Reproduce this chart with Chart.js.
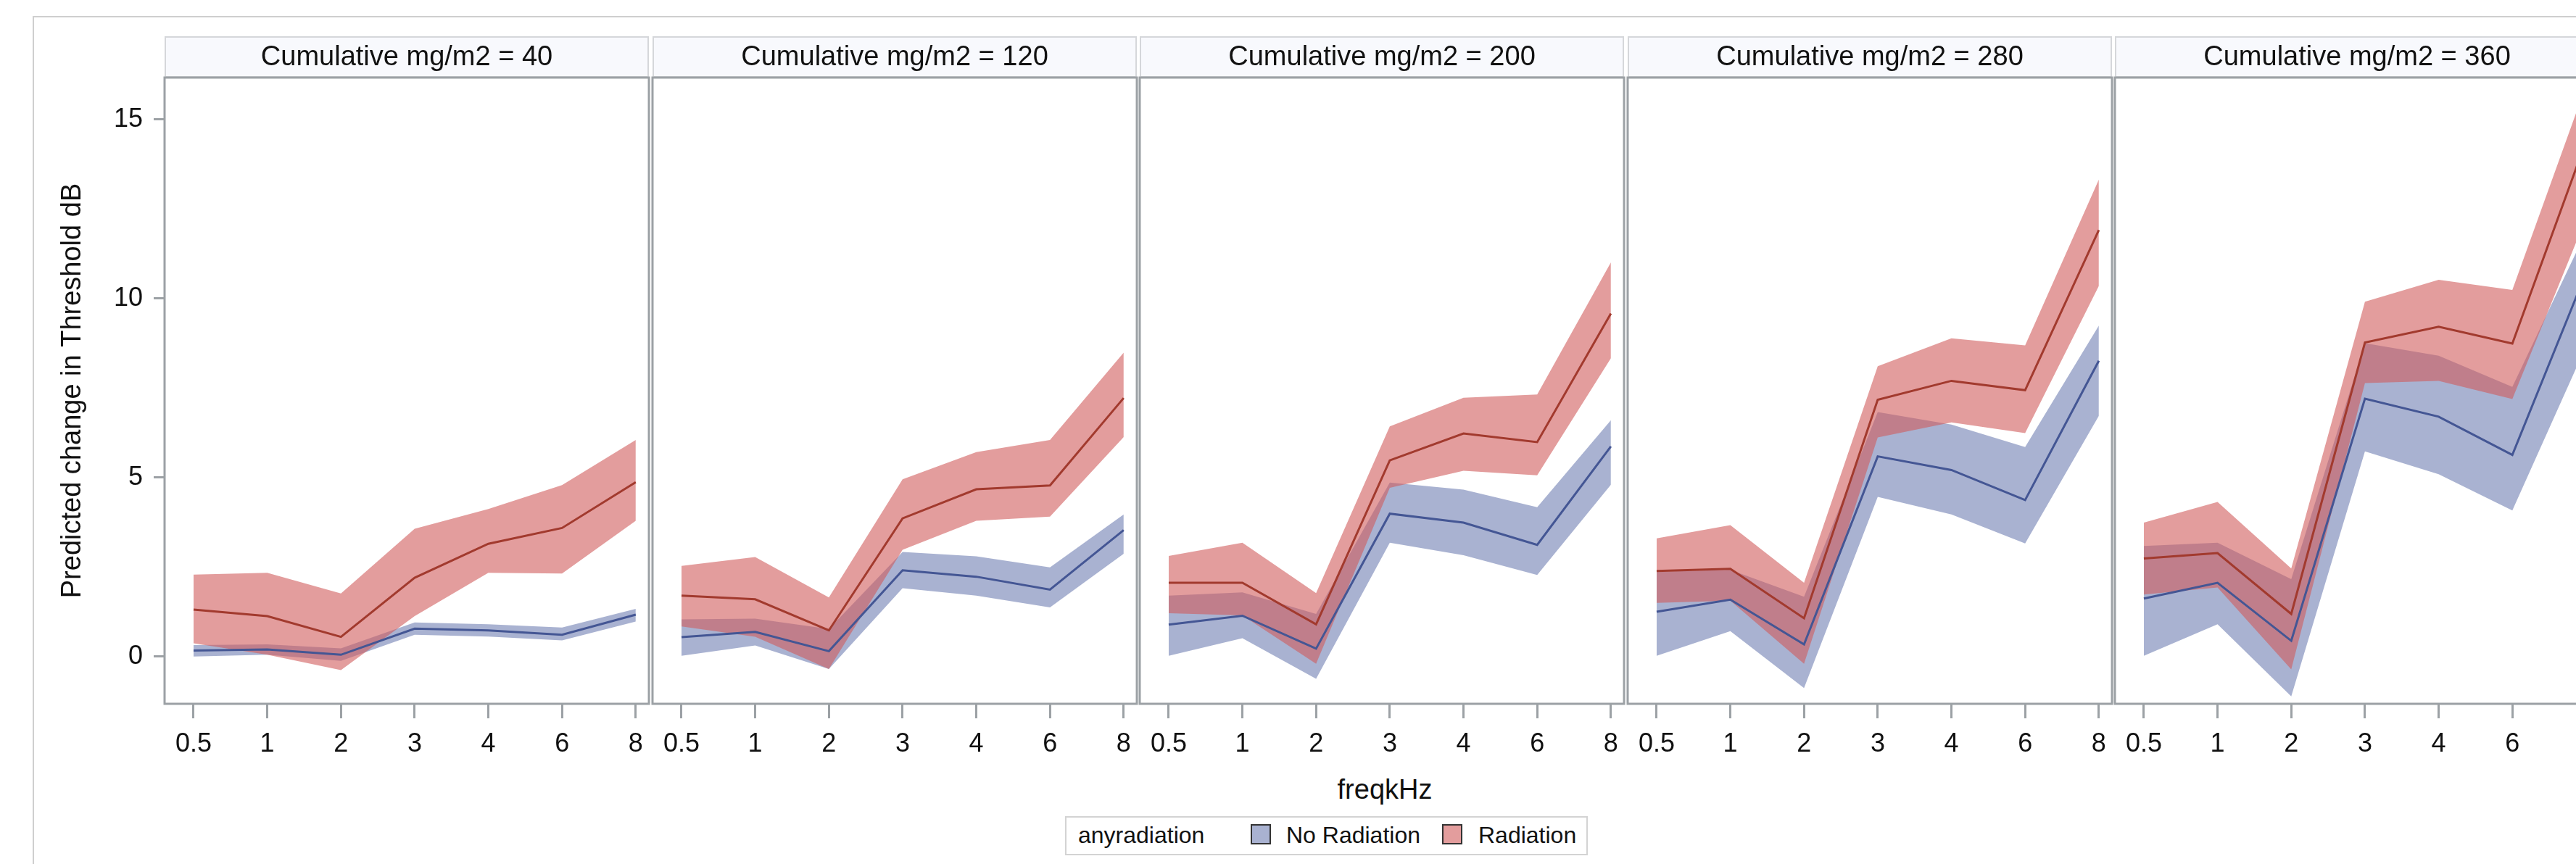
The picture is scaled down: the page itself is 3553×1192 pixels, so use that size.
<!DOCTYPE html>
<html>
<head>
<meta charset="utf-8">
<title>Predicted change in threshold by frequency</title>
<script src="https://cdn.jsdelivr.net/npm/chart.js@4.4.1/dist/chart.umd.min.js"></script>
<style>
  html, body { margin: 0; padding: 0; width: 3553px; height: 1192px; overflow: hidden; background: #fff; }
  body { position: relative; font-family: 'Liberation Sans', Arial, sans-serif; color: #111; }
  #frame { position: absolute; left: 45px; top: 22px; width: 4000px; height: 2000px; border: 2px solid #cfcfcf; }
  canvas { position: absolute; top: 0; }
  #xtitle { position: absolute; left: 1710px; width: 400px; top: 1070px; text-align: center; font-size: 38px; line-height: 38px; }
  #legend { position: absolute; left: 1469px; top: 1126px; width: 721px; height: 54px; box-sizing: border-box; border: 2px solid #d3d3d3; background: #fff; }
  #legend .lt { position: absolute; top: 8px; font-size: 32px; line-height: 32px; white-space: nowrap; }
  #legend .sw { position: absolute; top: 9px; width: 28px; height: 28px; box-sizing: border-box; border: 2px solid #333; }
</style>
</head>
<body>
<div id="frame"></div>
<div id="xtitle">freqkHz</div>
<div id="legend"></div>

<script>
// tick labels / panels
const freqLabels = ['0.5', '1', '2', '3', '4', '6', '8'];
const yTicks = [0, 5, 10, 15];
const doseLevels = [40, 120, 200, 280, 360];
const seriesNames = ['No Radiation', 'Radiation'];
const legendTitle = 'anyradiation';

// Radiation: fitted value and confidence band, one row per dose panel
const radFit = [
  [1.31, 1.13, 0.55, 2.20, 3.15, 3.59, 4.87],
  [1.70, 1.60, 0.73, 3.86, 4.67, 4.78, 7.22],
  [2.06, 2.06, 0.90, 5.48, 6.23, 5.99, 9.58],
  [2.39, 2.45, 1.07, 7.17, 7.70, 7.44, 11.91],
  [2.74, 2.89, 1.19, 8.77, 9.21, 8.74, 14.40]
];
const radUpper = [
  [2.29, 2.34, 1.76, 3.57, 4.12, 4.79, 6.05],
  [2.53, 2.78, 1.65, 4.95, 5.71, 6.05, 8.49],
  [2.81, 3.18, 1.77, 6.43, 7.23, 7.32, 11.01],
  [3.30, 3.67, 2.06, 8.11, 8.89, 8.69, 13.32],
  [3.74, 4.32, 2.46, 9.91, 10.52, 10.24, 15.95]
];
const radLower = [
  [0.37, 0.05, -0.38, 1.13, 2.34, 2.32, 3.79],
  [0.84, 0.55, -0.35, 2.98, 3.79, 3.91, 6.13],
  [1.21, 1.15, -0.20, 4.71, 5.19, 5.06, 8.33],
  [1.50, 1.56, -0.20, 6.12, 6.54, 6.24, 10.35],
  [1.73, 1.93, -0.36, 7.64, 7.70, 7.19, 12.25]
];

// No radiation
const noRadFit = [
  [0.17, 0.20, 0.05, 0.78, 0.73, 0.61, 1.17],
  [0.54, 0.69, 0.15, 2.41, 2.23, 1.87, 3.53],
  [0.89, 1.14, 0.22, 3.99, 3.74, 3.12, 5.87],
  [1.25, 1.59, 0.34, 5.59, 5.21, 4.37, 8.26],
  [1.62, 2.06, 0.44, 7.20, 6.70, 5.63, 10.72]
];
const noRadUpper = [
  [0.32, 0.34, 0.23, 0.95, 0.90, 0.81, 1.33],
  [1.04, 1.06, 0.77, 2.92, 2.80, 2.49, 3.97],
  [1.70, 1.79, 1.19, 4.86, 4.66, 4.17, 6.60],
  [2.37, 2.42, 1.67, 6.83, 6.48, 5.85, 9.24],
  [3.09, 3.18, 2.16, 8.75, 8.40, 7.53, 11.87]
];
const noRadLower = [
  [0.00, 0.05, -0.12, 0.61, 0.56, 0.45, 0.98],
  [0.02, 0.31, -0.35, 1.91, 1.70, 1.37, 2.87],
  [0.02, 0.51, -0.62, 3.18, 2.83, 2.28, 4.80],
  [0.02, 0.71, -0.88, 4.46, 3.97, 3.16, 6.72],
  [0.02, 0.90, -1.11, 5.73, 5.09, 4.08, 8.67]
];

// colours
const blueLine = '#445694', blueFill = 'rgba(111,126,179,0.6)';
const redLine = '#a23a2e', redFill = 'rgba(208,91,91,0.6)';
const axisGray = '#9ca1a5';

// layout of the panels on the page
const plotLeft = [227, 899.6, 1572.2, 2244.8, 2917.4];
const plotWidth = 669;
const canvasHeight = 1060;

Chart.defaults.font.family = "'Liberation Sans', Arial, sans-serif";
Chart.defaults.color = '#111';

// header strip above each panel and the panel border
const panelFrame = {
  id: 'panelFrame',
  beforeDraw(chart, args, opts) {
    const {ctx, chartArea: a} = chart;
    ctx.save();
    ctx.fillStyle = '#f8f9fd';
    ctx.fillRect(a.left, 51, a.right - a.left, 54);
    ctx.strokeStyle = '#d5d7da';
    ctx.lineWidth = 2;
    ctx.strokeRect(a.left + 1, 51, a.right - a.left - 2, 55);
    ctx.fillStyle = '#111';
    ctx.font = "38px 'Liberation Sans', Arial, sans-serif";
    ctx.textAlign = 'center';
    ctx.textBaseline = 'alphabetic';
    ctx.fillText(opts.title, (a.left + a.right) / 2, 90);
    ctx.restore();
  },
  afterDatasetsDraw(chart) {
    const {ctx, chartArea: a} = chart;
    ctx.save();
    ctx.strokeStyle = axisGray;
    ctx.lineWidth = 3;
    ctx.strokeRect(a.left, a.top, a.right - a.left, a.bottom - a.top);
    ctx.restore();
  }
};

function points(values) {
  return values.map((v, i) => ({x: i, y: v}));
}

function makePanel(p) {
  const first = p === 0;
  const canvas = document.createElement('canvas');
  const leftPad = first ? 0 : 5;
  const width = (first ? plotLeft[0] : 5) + plotWidth + 5;
  canvas.width = width;
  canvas.height = canvasHeight;
  canvas.style.width = width + 'px';
  canvas.style.height = canvasHeight + 'px';
  canvas.style.left = (first ? 0 : plotLeft[p] - 5) + 'px';
  document.body.appendChild(canvas);

  const lineBase = {pointRadius: 0, tension: 0, fill: false};
  new Chart(canvas.getContext('2d'), {
    type: 'line',
    data: {
      datasets: [
        {...lineBase, label: seriesNames[1], data: points(radFit[p]), borderColor: redLine, borderWidth: 3, order: 1},
        {...lineBase, label: seriesNames[0], data: points(noRadFit[p]), borderColor: blueLine, borderWidth: 3, order: 2},
        {...lineBase, label: 'Radiation upper', data: points(radUpper[p]), borderWidth: 0, backgroundColor: redFill, fill: 3, order: 3},
        {...lineBase, label: 'Radiation lower', data: points(radLower[p]), borderWidth: 0, order: 5},
        {...lineBase, label: 'No Radiation upper', data: points(noRadUpper[p]), borderWidth: 0, backgroundColor: blueFill, fill: 5, order: 4},
        {...lineBase, label: 'No Radiation lower', data: points(noRadLower[p]), borderWidth: 0, order: 6}
      ]
    },
    options: {
      responsive: false,
      animation: false,
      devicePixelRatio: 1,
      events: [],
      layout: {padding: {top: 107, left: leftPad, right: 5, bottom: 0}},
      plugins: {
        legend: {display: false},
        tooltip: {enabled: false},
        panelFrame: {title: 'Cumulative mg/m2 = ' + doseLevels[p]}
      },
      scales: {
        x: {
          type: 'linear',
          min: -0.393,
          max: 6.179,
          afterBuildTicks: ax => { ax.ticks = freqLabels.map((_, i) => ({value: i})); },
          afterFit: ax => { ax.height = canvasHeight - 971; },
          grid: {drawOnChartArea: false, tickLength: 20, color: axisGray, lineWidth: 3},
          border: {display: false},
          ticks: {padding: 14, font: {size: 36}, maxRotation: 0, autoSkip: false,
                  callback: v => freqLabels[v]}
        },
        y: {
          display: first,
          min: -1.32,
          max: 16.17,
          afterBuildTicks: ax => { ax.ticks = yTicks.map(v => ({value: v})); },
          afterFit: ax => { ax.width = first ? plotLeft[0] : 0; },
          grid: {drawOnChartArea: false, tickLength: 15, color: axisGray, lineWidth: 3},
          border: {display: false},
          ticks: {padding: 15, font: {size: 36}},
          title: {display: true, text: 'Predicted change in Threshold dB', font: {size: 38},
                  padding: {top: 78, bottom: 0}}
        }
      }
    },
    plugins: [panelFrame]
  });
}

doseLevels.forEach((_, p) => makePanel(p));

// legend built from the series names
const legend = document.getElementById('legend');
const legendItems = [
  {cls: 'lt', left: 16, text: legendTitle},
  {cls: 'sw', left: 254, color: blueFill},
  {cls: 'lt', left: 303, text: seriesNames[0]},
  {cls: 'sw', left: 518, color: redFill},
  {cls: 'lt', left: 568, text: seriesNames[1]}
];
legendItems.forEach(item => {
  const el = document.createElement('span');
  el.className = item.cls;
  el.style.left = item.left + 'px';
  if (item.text) el.textContent = item.text;
  if (item.color) el.style.background = item.color;
  legend.appendChild(el);
});
</script>
</body>
</html>
